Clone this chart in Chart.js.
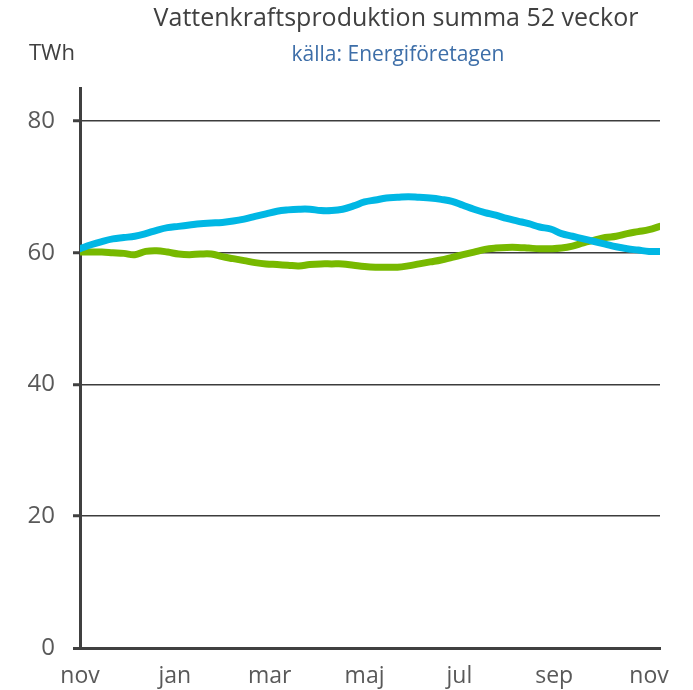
<!DOCTYPE html>
<html>
<head>
<meta charset="utf-8">
<script src="https://cdn.jsdelivr.net/npm/chart.js@4"></script>
<style>
    html, body { margin: 0; padding: 0; background: #ffffff; }
    #wrap { width: 693px; height: 690px; position: relative; }
</style>
</head>
<body>
<div id="wrap"><canvas id="chart"></canvas></div>
<script>
// Week number since start of November
const WEEKS = [0, 1, 2, 3, 4, 5, 6, 7, 8, 9, 10, 11, 12, 13, 14, 15, 16, 17,
    18, 19, 20, 21, 22, 23, 24, 25, 26, 27, 28, 29, 30, 31, 32, 33, 34, 35,
    36, 37, 38, 39, 40, 41, 42, 43, 44, 45, 46, 47, 48, 49, 50, 51, 52, 53];

// Rolling 52-week sums, TWh (blue series)
const BLUE_VALUES = [60.6, 61.2, 61.7, 62.1, 62.3, 62.5, 62.9, 63.4, 63.8, 64.0,
    64.2, 64.4, 64.5, 64.6, 64.8, 65.1, 65.5, 65.9, 66.3, 66.5, 66.6, 66.6,
    66.4, 66.4, 66.6, 67.1, 67.7, 68.0, 68.3, 68.4, 68.5, 68.4, 68.3, 68.1,
    67.8, 67.2, 66.6, 66.1, 65.7, 65.2, 64.8, 64.4, 63.9, 63.6, 62.9, 62.5,
    62.1, 61.7, 61.3, 60.9, 60.6, 60.4, 60.2, 60.2];

// Rolling 52-week sums, TWh (green series)
const GREEN_VALUES = [60.1, 60.1, 60.1, 60.0, 59.9, 59.7, 60.2, 60.3, 60.1, 59.8,
    59.7, 59.8, 59.8, 59.4, 59.1, 58.8, 58.5, 58.3, 58.2, 58.1, 58.0, 58.2,
    58.3, 58.3, 58.3, 58.1, 57.9, 57.8, 57.8, 57.8, 58.0, 58.3, 58.6, 58.9,
    59.3, 59.7, 60.1, 60.5, 60.7, 60.8, 60.8, 60.7, 60.6, 60.6, 60.7, 61.0,
    61.5, 61.9, 62.3, 62.5, 62.9, 63.2, 63.5, 64.0];

// x-axis month ticks (in weeks) and their labels
const MONTH_TICKS = [0, 8.667, 17.333, 26, 34.667, 43.333, 52];
const MONTH_LABELS = ['nov', 'jan', 'mar', 'maj', 'jul', 'sep', 'nov'];

const Y_TICKS = [0, 20, 40, 60, 80];

const COLORS = {
    blue: '#00b7e4',
    green: '#77b900',
    axis: '#404040',
    grid: '#3c3c3c',
    text: '#595959',
    title: '#404040',
    source: '#3d6ea8'
};

const FONT = "'Open Sans', sans-serif";

function toPoints(xs, ys) {
    return xs.map((x, i) => ({ x: x, y: ys[i] }));
}

// Title, source line and unit label
const headerPlugin = {
    id: 'header',
    afterDraw(chart) {
        const ctx = chart.ctx;
        ctx.save();
        ctx.textBaseline = 'middle';
        ctx.textAlign = 'center';
        ctx.fillStyle = COLORS.title;
        ctx.font = `25px ${FONT}`;
        ctx.fillText('Vattenkraftsproduktion summa 52 veckor', 396, 19);
        ctx.fillStyle = COLORS.source;
        ctx.font = `21px ${FONT}`;
        ctx.fillText('källa: Energiföretagen', 398, 55);
        ctx.textAlign = 'left';
        ctx.fillStyle = COLORS.title;
        ctx.font = `22px ${FONT}`;
        ctx.fillText('TWh', 29, 54);
        ctx.restore();
    }
};

new Chart(document.getElementById('chart'), {
    type: 'line',
    data: {
        datasets: [
            {
                label: 'blå',
                data: toPoints(WEEKS, BLUE_VALUES),
                borderColor: COLORS.blue,
                borderWidth: 7,
                pointRadius: 0,
                tension: 0.4,
                borderCapStyle: 'round'
            },
            {
                label: 'grön',
                data: toPoints(WEEKS, GREEN_VALUES),
                borderColor: COLORS.green,
                borderWidth: 7,
                pointRadius: 0,
                tension: 0.4,
                borderCapStyle: 'round'
            }
        ]
    },
    options: {
        responsive: true,
        maintainAspectRatio: false,
        animation: false,
        layout: {
            padding: { top: 88, right: 33, bottom: 0, left: 0 }
        },
        plugins: {
            legend: { display: false },
            tooltip: { enabled: false }
        },
        scales: {
            x: {
                type: 'linear',
                min: 0,
                max: 53,
                afterBuildTicks(scale) {
                    scale.ticks = MONTH_TICKS.map(v => ({ value: v }));
                },
                afterFit(scale) {
                    scale.height = 42;
                },
                ticks: {
                    autoSkip: false,
                    maxRotation: 0,
                    padding: 15,
                    color: COLORS.text,
                    font: { family: FONT, size: 23 },
                    callback: (value, index) => MONTH_LABELS[index]
                },
                grid: { display: false, drawTicks: false },
                border: { display: true, color: COLORS.axis, width: 3 }
            },
            y: {
                min: 0,
                max: 85,
                afterBuildTicks(scale) {
                    scale.ticks = Y_TICKS.map(v => ({ value: v }));
                },
                afterFit(scale) {
                    scale.width = 80;
                },
                ticks: {
                    padding: 18,
                    color: COLORS.text,
                    font: { family: FONT, size: 24 }
                },
                grid: {
                    color: COLORS.grid,
                    lineWidth: ctx => (ctx.tick && ctx.tick.value === 0 ? 3 : 1.5),
                    tickLength: 7,
                    tickColor: COLORS.axis,
                    tickWidth: 3
                },
                border: { display: true, color: COLORS.axis, width: 3 }
            }
        }
    },
    plugins: [headerPlugin]
});
</script>
</body>
</html>
